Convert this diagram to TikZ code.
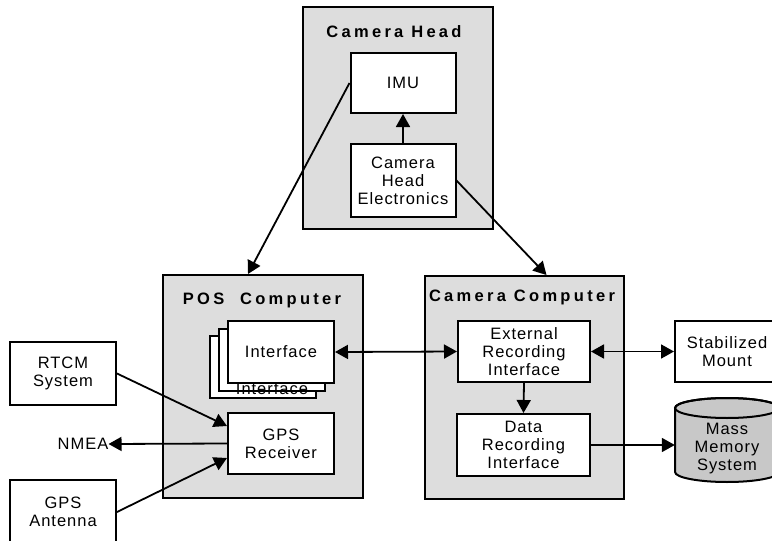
\documentclass[tikz,border=0pt]{standalone}
\usepackage{fontspec}
\setmainfont{Liberation Sans}[LetterSpace=6]
\newfontfamily\titlefont{Liberation Sans}[LetterSpace=20]
\usetikzlibrary{arrows.meta}
\definecolor{boxgray}{RGB}{221,221,221}
\definecolor{diskgray}{RGB}{200,200,200}
\begin{document}
\begin{tikzpicture}[x=1pt, y=-1pt,
  every node/.style={font=\fontsize{16.5}{18}\selectfont, align=center, inner sep=0pt},
  group/.style={draw, line width=2pt, fill=boxgray},
  unit/.style={draw, line width=2pt, fill=white},
  title/.style={font=\titlefont\bfseries\fontsize{16.5}{18}\selectfont},
  arr/.style={line width=1.8pt, -{Triangle[length=13pt,width=14pt]}},
  biarr/.style={line width=1.8pt, {Triangle[length=13pt,width=14pt]}-{Triangle[length=13pt,width=14pt]}}]
\useasboundingbox (0,0) rectangle (772,541);

% Camera head
\node[group, minimum width=190, minimum height=222] (head) at (398,118) {};
\node[title] (headtitle) at (394,32) {Camera Head};
\node[unit, minimum width=105, minimum height=60] (imu) at (403,83) {IMU};
\node[unit, minimum width=105, minimum height=73] (che) at (403,180.5) {Camera\\Head\\Electronics};

% POS computer
\node[group, minimum width=200, minimum height=223] (pos) at (263,386.5) {};
\node[title] (postitle) at (262,300) {POS\ \ Computer};
\foreach \dx/\dy/\nm in {-18.5/15/back, -9/7.5/mid} {
  \node[unit, minimum width=106, minimum height=62] (\nm) at (281+\dx,352+\dy) {};
}
\node (midtext) at (272,389) {Interface};
\node[unit, minimum width=106, minimum height=62] (iface) at (281,352) {Interface};
\node[unit, minimum width=106, minimum height=61] (gps) at (281,443.5) {GPS\\Receiver};

% Camera computer
\node[group, minimum width=199, minimum height=223] (cam) at (524.5,387.5) {};
\node[title] (camtitle) at (522,297) {Camera Computer};
\node[unit, minimum width=132, minimum height=61] (ext) at (524,351.5) {External\\Recording\\Interface};
\node[unit, minimum width=133, minimum height=62] (data) at (523.5,445) {Data\\Recording\\Interface};

% Outside units
\node[unit, minimum width=106, minimum height=63] (rtcm) at (63,373.5) {RTCM\\System};
\node (nmea) at (83,444) {NMEA};
\node[unit, minimum width=106, minimum height=64] (ant) at (63,512) {GPS\\Antenna};
\node[unit, minimum width=104, minimum height=61] (mount) at (727,351.5) {Stabilized\\Mount};

% Mass memory drum
\draw[line width=2pt, fill=diskgray] (675,408) -- (675,472) arc (180:0:52 and 10)
  -- (779,408) arc (0:-180:52 and 10) -- cycle;
\draw[line width=2pt] (727,408) ellipse (52 and 10);
\node[minimum width=104, minimum height=85] (mass) at (727,449) {Mass\\Memory\\System};

% Connections
\draw[arr] (che.north) -- (imu.south);
\draw[arr] (imu.west) -- ([xshift=-15pt]pos.north);
\draw[arr] (che.east) -- ([xshift=22pt]cam.north);
\draw[biarr] (iface.east) -- (ext.west);
\draw[biarr] (ext.east) -- (mount.west);
\draw[arr] (ext.south) -- (data.north);
\draw[arr] (data.east) -- (mass.west |- data.east);
\draw[arr] (rtcm.east) -- ([yshift=17.5pt]gps.west);
\draw[arr] (ant.east) -- ([yshift=-14.5pt]gps.west);
\draw[arr] (gps.west) -- (nmea.east);
\end{tikzpicture}
\end{document}
